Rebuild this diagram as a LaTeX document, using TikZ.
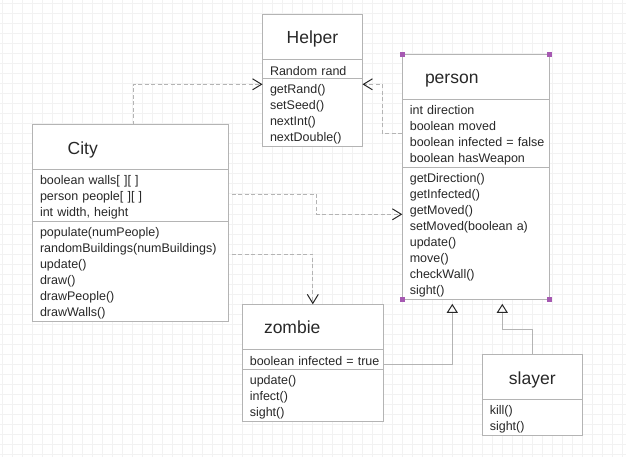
\documentclass[tikz,border=0pt]{standalone}
\usepackage{fontspec}
\setmainfont{Liberation Sans}
\usetikzlibrary{positioning,arrows.meta}
\definecolor{boxgray}{RGB}{180,180,180}
\definecolor{gridgray}{RGB}{242,242,242}
\definecolor{ink}{RGB}{40,40,40}
\definecolor{handle}{RGB}{166,89,178}
\newcommand{\headfont}{\fontsize{17.5}{20}\selectfont}
\newcommand{\partfont}{\fontsize{12.5}{16}\selectfont}
\tikzset{
	box/.style={draw=boxgray, fill=white, line width=1pt, text=ink, outer sep=0pt},
	head/.style={box, font=\headfont, minimum height=45pt, inner xsep=7.5pt, text height=16pt, text depth=2pt, align=center},
	part/.style={box, font=\partfont, inner xsep=7.5pt, inner ysep=0pt, align=left, execute at begin node={\rule{0pt}{13pt}}},
	depend/.style={draw=boxgray, line width=1pt, dash pattern=on 4pt off 2.5pt, -{Straight Barb[length=9pt,width=11pt,color=ink]}},
	inherit/.style={draw=boxgray, line width=1pt, -{Triangle[open,length=9pt,width=11pt,color=ink]}},
}
\begin{document}
\begin{tikzpicture}[x=1pt,y=-1pt]
	\useasboundingbox (0,0) rectangle (626,457);
	\fill[white] (0,0) rectangle (626,457);
	\foreach \gx in {2.5,12.5,...,622.5} \draw[gridgray, line width=1pt] (\gx,0) -- (\gx,457);
	\foreach \gy in {4,14,...,454} \draw[gridgray, line width=1pt] (0,\gy) -- (626,\gy);
	
	% Helper
	\node[head, text width=85pt, anchor=north west] (helperhead) at (262.5,14.3) {Helper};
	\node[part, text width=85pt, minimum height=19.6pt, below=0pt of helperhead] (helperattrs) {Random rand};
	\node[part, text width=85pt, minimum height=67.7pt, below=0pt of helperattrs] (helpermeth)
	{getRand()\\setSeed()\\nextInt()\\nextDouble()};
	
	% City
	\node[head, text width=125.6pt, inner xsep=35.2pt, align=left, anchor=north west] (cityhead) at (32.5,124.7) {City};
	\node[part, text width=181pt, minimum height=52pt, below=0pt of cityhead] (cityattrs)
	{boolean walls[ ][ ]\\person people[ ][ ]\\int width, height};
	\node[part, text width=181pt, minimum height=99.3pt, below=0pt of cityattrs] (citymeth)
	{populate(numPeople)\\\mbox{randomBuildings(numBuildings)}\\update()\\draw()\\drawPeople()\\drawWalls()};
	
	% person
	\node[head, text width=101.6pt, inner xsep=22.7pt, align=left, anchor=north west] (personhead) at (402.3,54.3) {person};
	\node[part, text width=132pt, minimum height=68pt, below=0pt of personhead] (personattrs)
	{int direction\\boolean moved\\\mbox{boolean infected = false}\\boolean hasWeapon};
	\node[part, text width=132pt, minimum height=132pt, below=0pt of personattrs] (personmeth)
	{getDirection()\\getInfected()\\getMoved()\\setMoved(boolean a)\\update()\\move()\\checkWall()\\sight()};
	
	% zombie
	\node[head, text width=97.6pt, inner xsep=21.7pt, align=left, anchor=north west] (zombiehead) at (242.3,304.3) {zombie};
	\node[part, text width=126pt, minimum height=20pt, below=0pt of zombiehead] (zombieattrs) {\mbox{boolean infected = true}};
	\node[part, text width=126pt, minimum height=52pt, below=0pt of zombieattrs] (zombiemeth)
	{update()\\infect()\\sight()};
	
	% slayer
	\node[head, text width=85pt, anchor=north west] (slayerhead) at (482.3,354.7) {slayer};
	\node[part, text width=85pt, minimum height=35.7pt, below=0pt of slayerhead] (slayermeth) {kill()\\sight()};
	
	% dependencies
	\draw[depend] ([xshift=2.5pt]cityhead.north) |- ([yshift=-5.4pt]helpermeth.north west);
	\draw[depend] (personattrs.west) -- ++(-20,0) |- ([yshift=-5.4pt]helpermeth.north east);
	\draw[depend] ([xshift=3.3pt,yshift=1.4pt]cityattrs.east) -- ++(85,0) |- ([yshift=-47pt]personmeth.north west);
	\draw[depend] ([xshift=3.3pt,yshift=-32.3pt]citymeth.north east) -| (zombiehead.north);
	
	% inheritance
	\draw[inherit] ([yshift=-5pt]zombieattrs.east) -| ([xshift=-23.5pt,yshift=-4.5pt]personmeth.south);
	\draw[inherit] (slayerhead.north) -- ++(0,-25.4) -| ([xshift=26.5pt,yshift=-4.5pt]personmeth.south);
	
	% selection handles
	\foreach \c in {personhead.north west,personhead.north east,personmeth.south west,personmeth.south east}
	\fill[handle] (\c) ++(-2.5,-2.5) rectangle ++(5,5);
\end{tikzpicture}
\end{document}
